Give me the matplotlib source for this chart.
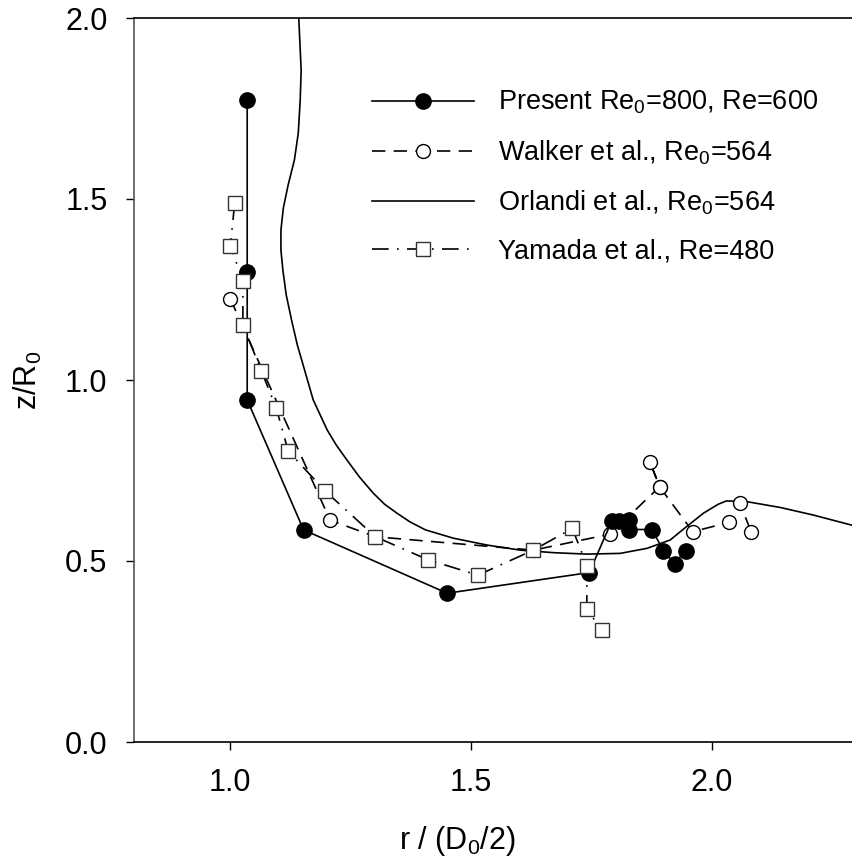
import matplotlib
matplotlib.use("Agg")
import matplotlib.pyplot as plt

plt.rcParams['font.family'] = ['Liberation Sans', 'DejaVu Sans']
plt.rcParams['mathtext.default'] = 'regular'

# Present Re0=800, Re=600
present_r = [1.035, 1.035, 1.035, 1.152, 1.450, 1.745, 1.792, 1.806, 1.828, 1.828, 1.875, 1.899, 1.922, 1.945]
present_z = [1.773, 1.299, 0.945, 0.586, 0.411, 0.468, 0.611, 0.611, 0.613, 0.587, 0.587, 0.529, 0.493, 0.529]

# Walker et al., Re0=564
walker_r = [1.000, 1.207, 1.301, 1.629, 1.788, 1.891, 1.871, 1.891, 1.960, 2.036, 2.058, 2.081]
walker_z = [1.224, 0.613, 0.567, 0.530, 0.574, 0.705, 0.774, 0.705, 0.581, 0.607, 0.659, 0.581]

# Orlandi et al., Re0=564
orlandi_r = [1.142, 1.147, 1.145, 1.141, 1.133, 1.120, 1.110, 1.105, 1.105, 1.109, 1.116, 1.127,
             1.139, 1.154, 1.172, 1.201, 1.220, 1.242, 1.268, 1.297, 1.320, 1.346, 1.373, 1.405,
             1.463, 1.533, 1.602, 1.671, 1.740, 1.809, 1.865, 1.913, 1.947, 1.982, 2.013, 2.030,
             2.072, 2.141, 2.210, 2.290]
orlandi_z = [2.000, 1.856, 1.773, 1.682, 1.608, 1.539, 1.475, 1.414, 1.359, 1.304, 1.235, 1.166,
             1.097, 1.028, 0.945, 0.862, 0.820, 0.779, 0.732, 0.687, 0.657, 0.632, 0.608, 0.586,
             0.563, 0.544, 0.530, 0.523, 0.519, 0.521, 0.535, 0.558, 0.595, 0.632, 0.657, 0.666,
             0.664, 0.648, 0.627, 0.599]

# Yamada et al., Re=480
yamada_r = [1.009, 1.000, 1.026, 1.026, 1.064, 1.095, 1.120, 1.197, 1.301, 1.411, 1.514, 1.629, 1.710, 1.740, 1.740, 1.771]
yamada_z = [1.488, 1.371, 1.273, 1.153, 1.026, 0.924, 0.804, 0.693, 0.567, 0.503, 0.461, 0.530, 0.590, 0.487, 0.367, 0.309]

labels = ['Present Re$_0$=800, Re=600', 'Walker et al., Re$_0$=564',
          'Orlandi et al., Re$_0$=564', 'Yamada et al., Re=480']

W, H = 852, 865
fig = plt.figure(figsize=(W / 100, H / 100), dpi=100)
left, right, top, bottom = 134, 856.6, 18, 742
aw = right - left
ah = bottom - top
ax = fig.add_axes([left / W, 1 - bottom / H, aw / W, ah / H])

lw = 1.2
ax.plot(present_r, present_z, '-', color='black', lw=lw, marker='o', ms=11,
        mfc='black', mec='black', label=labels[0], zorder=4)
ax.plot(walker_r, walker_z, color='black', lw=lw, dashes=(8, 5), marker='o', ms=10,
        mfc='white', mec='black', mew=1.0, label=labels[1], zorder=3)
ax.plot(orlandi_r, orlandi_z, '-', color='black', lw=lw, label=labels[2], zorder=2)
ax.plot(yamada_r, yamada_z, color='black', lw=lw, dashes=(10, 5, 1, 5), marker='s', ms=10,
        mfc='white', mec='#333333', mew=1.0, label=labels[3], zorder=5)

ax.set_xlim(0.8, 2.3)
ax.set_ylim(0.0, 2.0)
ax.set_xticks([1.0, 1.5, 2.0])
ax.set_yticks([0.0, 0.5, 1.0, 1.5, 2.0])
ax.xaxis.set_major_formatter(matplotlib.ticker.FormatStrFormatter('%.1f'))
ax.yaxis.set_major_formatter(matplotlib.ticker.FormatStrFormatter('%.1f'))
ax.tick_params(axis='both', direction='out', length=6, width=1, labelsize=22, pad=13)
ax.spines['right'].set_visible(False)
ax.spines['left'].set_color('#555555')
for s in ['left', 'bottom', 'top']:
    ax.spines[s].set_linewidth(1.2)

ax.set_xlabel('r / (D$_0$/2)', fontsize=22)
ax.set_ylabel('z/R$_0$', fontsize=22)
ax.xaxis.set_label_coords((457 - left) / aw, -(824 - bottom) / ah, transform=ax.transAxes)
ax.yaxis.set_label_coords(-(left - 44) / aw, 0.5, transform=ax.transAxes)

leg = ax.legend(loc='upper left', bbox_to_anchor=(372 / W, 1 - 89 / H), bbox_transform=fig.transFigure,
                frameon=False, fontsize=19.5, handlelength=3.75, handletextpad=0.9, labelspacing=0.8,
                borderaxespad=0, borderpad=0)

fig.savefig('out.png', dpi=100)
